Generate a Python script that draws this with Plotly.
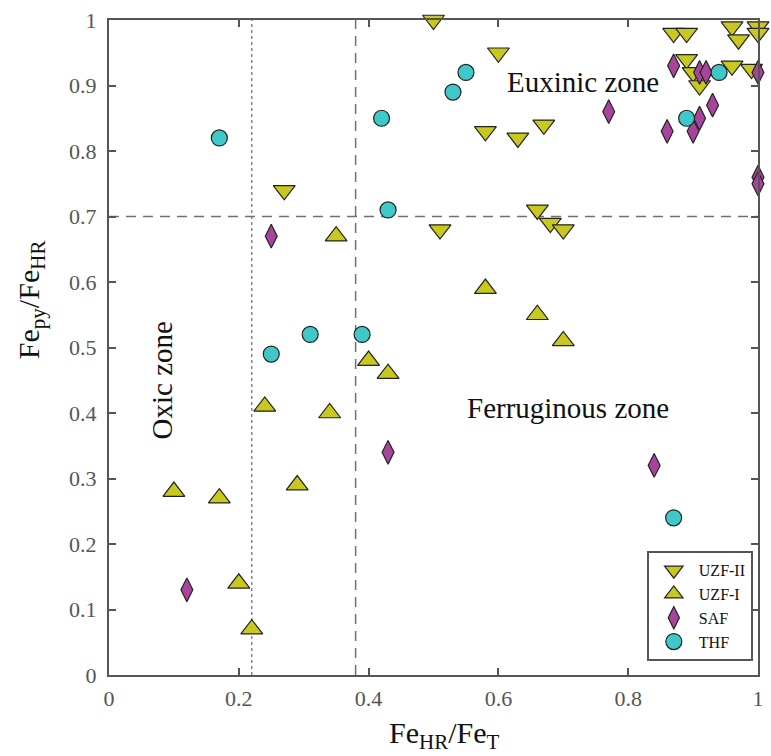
import plotly.graph_objects as go

# ---- data ----
uzf2_x = [0.50, 0.60, 0.58, 0.63, 0.67, 0.27, 0.51, 0.66, 0.68, 0.70,
          0.87, 0.89, 0.96, 0.97, 1.00, 1.00, 0.89, 0.90, 0.91, 0.96, 0.99]
uzf2_y = [1.00, 0.95, 0.83, 0.82, 0.84, 0.74, 0.68, 0.71, 0.69, 0.68,
          0.98, 0.98, 0.99, 0.97, 0.99, 0.98, 0.94, 0.92, 0.90, 0.93, 0.925]

uzf1_x = [0.35, 0.58, 0.66, 0.70, 0.40, 0.43, 0.24, 0.34, 0.10, 0.17, 0.29, 0.20, 0.22]
uzf1_y = [0.67, 0.59, 0.55, 0.51, 0.48, 0.46, 0.41, 0.40, 0.28, 0.27, 0.29, 0.14, 0.07]

saf_x = [0.25, 0.43, 0.12, 0.84, 0.77, 0.87, 0.91, 0.92, 0.93, 0.91, 0.86, 0.90, 1.00, 1.00, 1.00]
saf_y = [0.67, 0.34, 0.13, 0.32, 0.86, 0.93, 0.92, 0.92, 0.87, 0.85, 0.83, 0.83, 0.92, 0.76, 0.75]

thf_x = [0.17, 0.55, 0.53, 0.42, 0.43, 0.25, 0.31, 0.39, 0.87, 0.94, 0.89]
thf_y = [0.82, 0.92, 0.89, 0.85, 0.71, 0.49, 0.52, 0.52, 0.24, 0.92, 0.85]

x_ticks = [0, 0.2, 0.4, 0.6, 0.8, 1]
x_ticktext = ["0", "0.2", "0.4", "0.6", "0.8", "1"]
y_ticks = [0, 0.1, 0.2, 0.3, 0.4, 0.5, 0.6, 0.7, 0.8, 0.9, 1]
y_ticktext = ["0", "0.1", "0.2", "0.3", "0.4", "0.5", "0.6", "0.7", "0.8", "0.9", "1"]

oxic_limit = 0.22
fe_hr_limit = 0.38
py_limit = 0.7

FONT = "Liberation Serif"
YEL = "#c8c81e"
PUR = "#a8449c"
CYA = "#3ec8c8"
EDGE = "#222222"
AX = "#555555"

fig = go.Figure()
fig.add_trace(go.Scatter(x=uzf2_x, y=uzf2_y, mode="markers", name="UZF-II",
                         marker=dict(symbol="triangle-down", size=19, color=YEL,
                                     line=dict(color=EDGE, width=1.2)), cliponaxis=False))
fig.add_trace(go.Scatter(x=uzf1_x, y=uzf1_y, mode="markers", name="UZF-I",
                         marker=dict(symbol="triangle-up", size=19, color=YEL,
                                     line=dict(color=EDGE, width=1.2)), cliponaxis=False))
fig.add_trace(go.Scatter(x=saf_x, y=saf_y, mode="markers", name="SAF",
                         marker=dict(symbol="diamond-tall", size=17, color=PUR,
                                     line=dict(color=EDGE, width=1.2)), cliponaxis=False))
fig.add_trace(go.Scatter(x=thf_x, y=thf_y, mode="markers", name="THF",
                         marker=dict(symbol="circle", size=16, color=CYA,
                                     line=dict(color=EDGE, width=1.2)), cliponaxis=False))

line_style = dict(color="#707070", width=1.5, dash="10px,7px")
fig.add_shape(type="line", x0=oxic_limit, x1=oxic_limit, y0=0, y1=1, xref="x", yref="y",
              line=dict(color="#888888", width=1.5, dash="dot"), layer="below")
fig.add_shape(type="line", x0=fe_hr_limit, x1=fe_hr_limit, y0=0, y1=1, xref="x", yref="y",
              line=line_style, layer="below")
fig.add_shape(type="line", x0=0, x1=1, y0=py_limit, y1=py_limit, xref="x", yref="y",
              line=line_style, layer="below")

zone_font = dict(family=FONT, size=29, color="#111111")
fig.add_annotation(x=0.73, y=0.905, xref="x", yref="y", text="Euxinic zone",
                   showarrow=False, font=zone_font, xanchor="center", yanchor="middle")
fig.add_annotation(x=0.707, y=0.408, xref="x", yref="y", text="Ferruginous zone",
                   showarrow=False, font=zone_font, xanchor="center", yanchor="middle")
fig.add_annotation(x=0.082, y=0.45, xref="x", yref="y", text="Oxic zone", textangle=-90,
                   showarrow=False, font=zone_font, xanchor="center", yanchor="middle")

title_font = dict(family=FONT, size=30, color="#111111")
fig.add_annotation(x=0.5176, y=-0.092, xref="paper", yref="paper",
                   text="Fe<sub>HR</sub>/Fe<sub>T</sub>", showarrow=False, font=title_font,
                   xanchor="center", yanchor="middle")
fig.add_annotation(x=-0.12, y=0.5725, xref="paper", yref="paper",
                   text="Fe<sub>py</sub>/Fe<sub>HR</sub>", showarrow=False, font=title_font,
                   textangle=-90, xanchor="center", yanchor="middle")

tick_font = dict(family=FONT, size=22, color="#555555")


def make_axis(vals, texts, standoff):
    return dict(range=[0, 1], showgrid=False, zeroline=False, showline=True,
                linecolor=AX, linewidth=2, mirror="ticks", ticks="inside",
                ticklen=7, tickwidth=2, tickcolor=AX,
                tickmode="array", tickvals=vals, ticktext=texts,
                tickfont=tick_font, ticklabelstandoff=standoff)


fig.update_layout(
    width=771, height=756,
    font=dict(family=FONT, size=22, color="#555555"),
    margin=dict(l=109, r=7, t=20, b=81),
    paper_bgcolor="white", plot_bgcolor="white",
    xaxis=make_axis(x_ticks, x_ticktext, 3),
    yaxis=make_axis(y_ticks, y_ticktext, 6),
    legend=dict(x=0.992, y=0.021, xanchor="right", yanchor="bottom",
                bgcolor="white", bordercolor=AX, borderwidth=2,
                font=dict(family=FONT, size=16, color="#111111"),
                tracegroupgap=0, itemsizing="trace", itemwidth=40),
    showlegend=True,
)

fig.write_html("out.html")
